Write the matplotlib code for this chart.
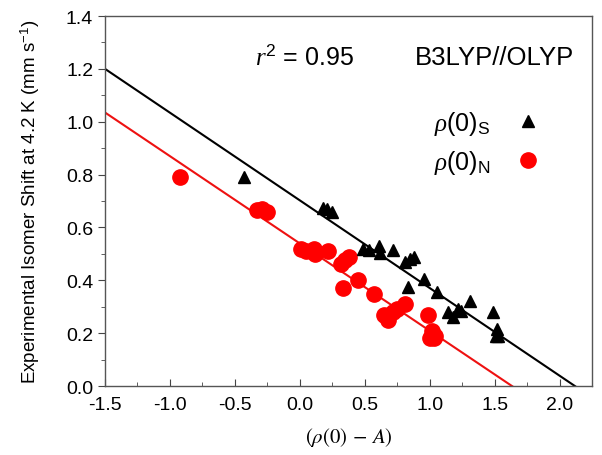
#!/usr/bin/env python3
"""
Isomer shift vs (rho(0) - A) scatter with linear fits
"""

import matplotlib
matplotlib.use('Agg')
import matplotlib.pyplot as plt
import numpy as np
from matplotlib.ticker import MultipleLocator

plt.rcParams['font.family'] = ['Liberation Sans', 'DejaVu Sans']
plt.rcParams['mathtext.fontset'] = 'custom'
plt.rcParams['mathtext.rm'] = 'Liberation Sans'
plt.rcParams['mathtext.it'] = 'Liberation Serif:italic'

# rho(0)_S 数据 (三角)
s_x = [-0.43, 0.18, 0.21, 0.25, 0.49, 0.53, 0.61, 0.62, 0.72, 0.81, 0.85, 0.88,
       0.83, 0.96, 1.06, 1.14, 1.18, 1.22, 1.24, 1.31, 1.49, 1.52, 1.51, 1.53]
s_y = [0.79, 0.675, 0.67, 0.66, 0.52, 0.515, 0.53, 0.505, 0.515, 0.47, 0.48, 0.49,
       0.375, 0.405, 0.355, 0.28, 0.26, 0.29, 0.285, 0.32, 0.28, 0.215, 0.19, 0.19]

# rho(0)_N 数据 (圆点)
n_x = [-0.92, -0.33, -0.29, -0.25, 0.01, 0.05, 0.11, 0.12, 0.22, 0.32, 0.35, 0.38,
       0.33, 0.45, 0.57, 0.65, 0.68, 0.72, 0.75, 0.81, 0.99, 1.00, 1.02, 1.04, 1.03]
n_y = [0.79, 0.665, 0.67, 0.66, 0.52, 0.51, 0.52, 0.50, 0.51, 0.46, 0.475, 0.49,
       0.37, 0.40, 0.35, 0.27, 0.25, 0.28, 0.29, 0.31, 0.27, 0.18, 0.21, 0.19, 0.18]

# 拟合直线: y = a + b*x
fit_s = (0.7025, -0.3317)
fit_n = (0.5395, -0.3303)

fig = plt.figure(figsize=(6.02, 4.56), dpi=100)
ax = fig.add_axes([0.1744, 0.1513, 0.809, 0.8114])

xx = np.array([-1.5, 2.25])
ax.plot(xx, fit_s[0] + fit_s[1] * xx, color='black', lw=1.5, zorder=1)
ax.plot(xx, fit_n[0] + fit_n[1] * xx, color='#ee1111', lw=1.5, zorder=1)

ax.plot(s_x, s_y, '^', color='black', ms=9, ls='none', zorder=3,
        label=r'$\rho$(0)$_{\mathrm{S}}$')
ax.plot(n_x, n_y, 'o', color='#ff0000', ms=11, ls='none', zorder=2,
        label=r'$\rho$(0)$_{\mathrm{N}}$')

ax.set_xlim(-1.5, 2.25)
ax.set_ylim(0.0, 1.4)
ax.xaxis.set_major_locator(MultipleLocator(0.5))
ax.xaxis.set_minor_locator(MultipleLocator(0.25))
ax.yaxis.set_major_locator(MultipleLocator(0.2))
ax.yaxis.set_minor_locator(MultipleLocator(0.1))
ax.xaxis.set_major_formatter(plt.FuncFormatter(lambda v, p: f'{v:.1f}'))
ax.yaxis.set_major_formatter(plt.FuncFormatter(lambda v, p: f'{v:.1f}'))
ax.tick_params(axis='x', which='both', direction='in', labelsize=14, pad=7)
ax.tick_params(axis='y', which='both', direction='out', labelsize=14)
ax.tick_params(which='major', length=5, color='#444444')
ax.tick_params(which='minor', length=3, color='#444444')
for sp in ax.spines.values():
    sp.set_color('#555555')
    sp.set_linewidth(1.0)

ax.set_xlabel(r'$(\rho(0)\,-\,A)$', fontsize=15, math_fontfamily='stix', labelpad=9)
ax.set_ylabel(r'Experimental Isomer Shift at 4.2 K (mm s$^{-1}$)', fontsize=13.5,
              labelpad=17)

ax.text(0.04, 1.245, r'$r^2$ = 0.95', fontsize=18, ha='center', va='center')
ax.text(1.50, 1.245, 'B3LYP//OLYP', fontsize=18.5, ha='center', va='center')

leg = ax.legend(loc='upper right', bbox_to_anchor=(0.94, 0.81), frameon=False,
                markerfirst=False, fontsize=18, handletextpad=1.0,
                labelspacing=0.45, handlelength=1.0)

fig.savefig('out.png', dpi=100)
